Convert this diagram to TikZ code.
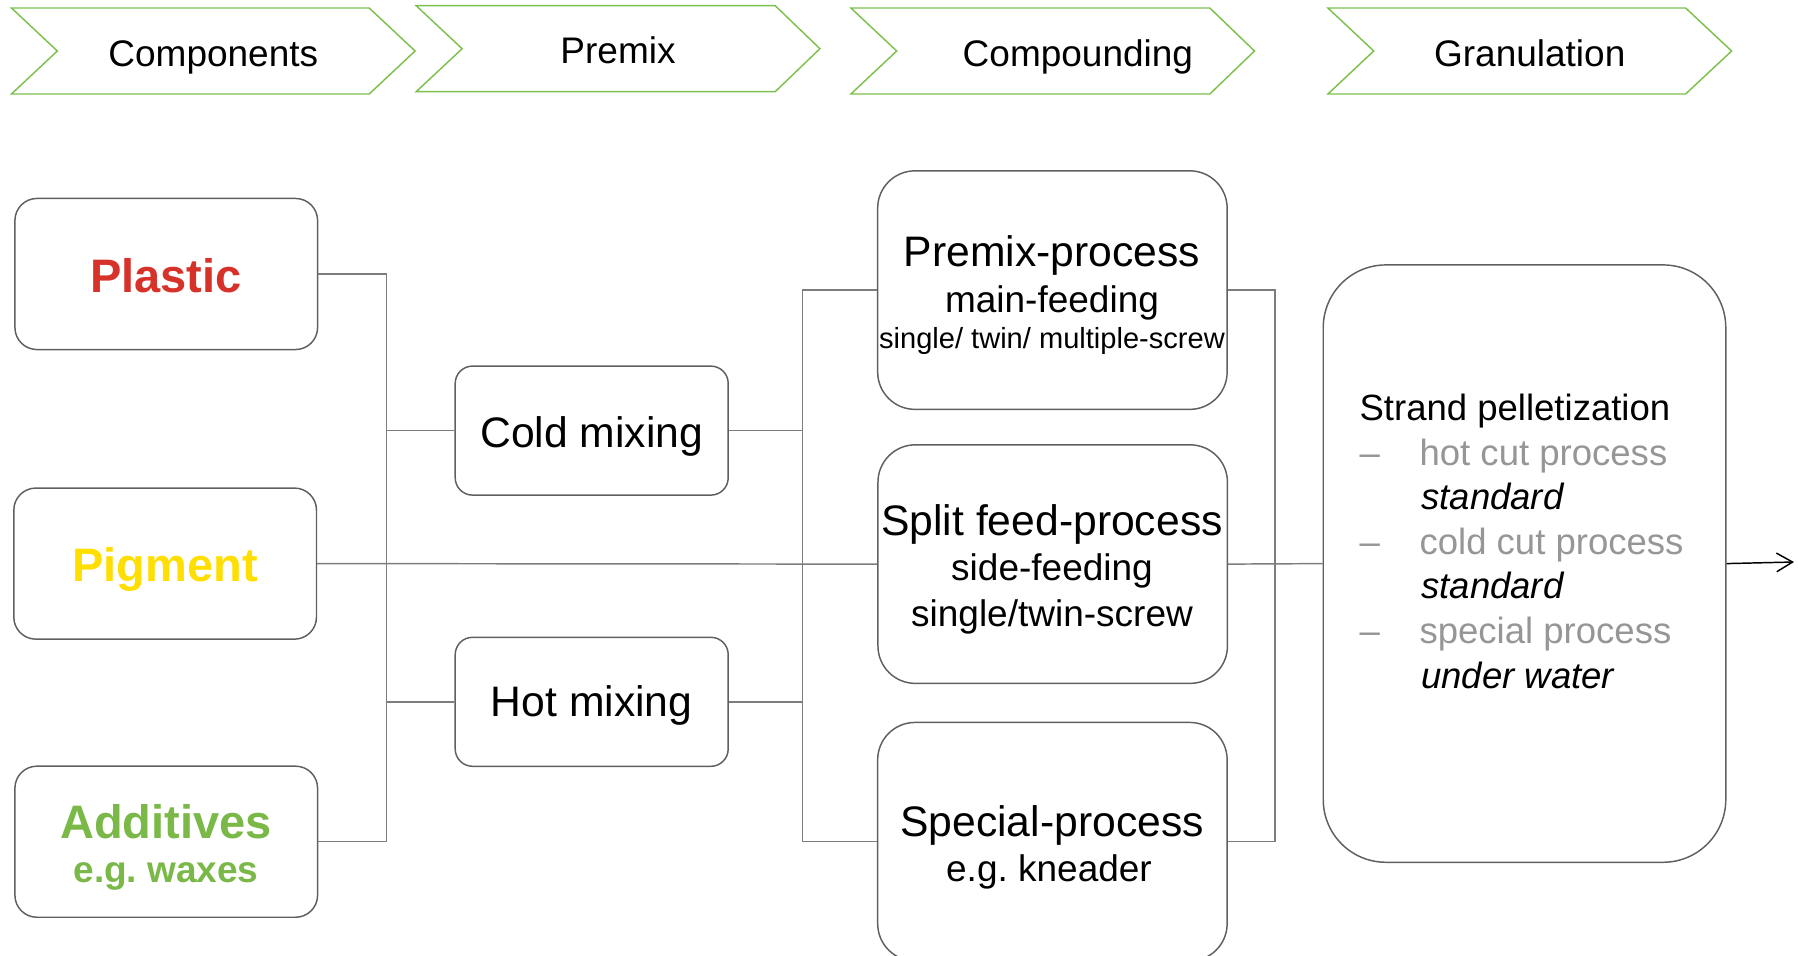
\documentclass[tikz,border=0pt]{standalone}
\usepackage{fontspec}
\setmainfont{Liberation Sans}
\usetikzlibrary{arrows.meta}
\frenchspacing
\definecolor{chevgreen}{RGB}{125,192,78}
\definecolor{plasticred}{RGB}{214,50,42}
\definecolor{pigyellow}{RGB}{255,222,0}
\definecolor{addgreen}{RGB}{122,184,72}
\definecolor{boxgray}{RGB}{95,95,95}
\definecolor{linegray}{RGB}{125,125,125}
\definecolor{txtgray}{RGB}{150,150,150}
\newcommand{\myfs}[1]{\fontsize{#1}{#1}\selectfont}
\begin{document}
\begin{tikzpicture}[x=0.75pt,y=-0.75pt,
  chev/.style={draw=chevgreen,line width=1.1pt,line join=miter},
  chevtxt/.style={anchor=base,inner sep=0,font=\myfs{27.75pt}},
  compbox/.style={draw=boxgray,line width=1.1pt,rounded corners=16.5pt,minimum width=227pt,minimum height=113.3pt,inner sep=0},
  mixbox/.style={draw=boxgray,line width=1.1pt,rounded corners=13pt,minimum width=204.75pt,minimum height=96.75pt,inner sep=0},
  procbox/.style={draw=boxgray,line width=1.1pt,rounded corners=28pt,minimum width=262.1pt,minimum height=178.9pt,inner sep=0},
  granbox/.style={draw=boxgray,line width=1.1pt,rounded corners=47pt,minimum width=301.9pt,minimum height=448pt,inner sep=0},
  txt/.style={anchor=base,inner sep=0},
  ltxt/.style={anchor=base west,inner sep=0,font=\myfs{27.4pt}},
  conn/.style={draw=linegray,line width=1.1pt}]
\useasboundingbox (0,0) rectangle (1798,956);

% header chevrons
\draw[chev] (11.5,8) -- (369.2,8) -- (415.1,51) -- (369.2,94) -- (11.5,94) -- (57.3,51) -- cycle;
\draw[chev] (416.2,5.7) -- (775.2,5.7) -- (819.9,48.7) -- (775.2,91.7) -- (416.2,91.7) -- (462.1,48.7) -- cycle;
\draw[chev] (850.9,8) -- (1209.8,8) -- (1254.5,51) -- (1209.8,94) -- (850.9,94) -- (896.7,51) -- cycle;
\draw[chev] (1327.9,8) -- (1685.6,8) -- (1731.6,51) -- (1685.6,94) -- (1327.9,94) -- (1373.7,51) -- cycle;
\node[chevtxt] (h1) at (213.3,66) {Components};
\node[chevtxt] (h2) at (618,63.6) {Premix};
\node[chevtxt] (h3) at (1077.9,66) {Compounding};
\node[chevtxt] (h4) at (1529.7,66) {Granulation};

% component boxes
\node[compbox] (plastic) at (166.25,274) {};
\node[compbox] (pigment) at (165.15,563.6) {};
\node[compbox] (additives) at (166.25,841.7) {};
\node[txt,font=\bfseries\myfs{35.25pt},text=plasticred] (plasticT) at (166,292) {Plastic};
\node[txt,font=\bfseries\myfs{35.25pt},text=pigyellow] (pigmentT) at (165,581) {Pigment};
\node[txt,font=\bfseries\myfs{35.25pt},text=addgreen] (additivesT) at (166,838) {Additives};
\node[txt,font=\bfseries\myfs{27.75pt},text=addgreen] (additivesT2) at (166,882) {e.g. waxes};

% mixing boxes
\node[mixbox] (cold) at (591.7,430.6) {};
\node[mixbox] (hot) at (591.7,701.8) {};
\node[txt,font=\myfs{32pt}] (coldT) at (591.7,447) {Cold mixing};
\node[txt,font=\myfs{32pt}] (hotT) at (591.7,716) {Hot mixing};

% process boxes
\node[procbox] (premix) at (1052.4,290.1) {};
\node[procbox] (split) at (1052.7,564.1) {};
\node[procbox] (special) at (1052.4,841.7) {};
\node[txt,font=\myfs{32pt}] (premixT1) at (1052,266) {Premix-process};
\node[txt,font=\myfs{27.75pt}] (premixT2) at (1052,312) {main-feeding};
\node[txt,font=\myfs{21.8pt}] (premixT3) at (1052,348) {single/ twin/ multiple-screw};
\node[txt,font=\myfs{32pt}] (splitT1) at (1052,535.8) {Split feed-process};
\node[txt,font=\myfs{27.75pt}] (splitT2) at (1052,580.8) {side-feeding};
\node[txt,font=\myfs{27.75pt}] (splitT3) at (1052,626.7) {single/twin-screw};
\node[txt,font=\myfs{32pt}] (specialT1) at (1052,836.3) {Special-process};
\node[txt,font=\myfs{27.75pt}] (specialT2) at (1049,881.2) {e.g. kneader};

% granulation box
\node[granbox] (strand) at (1524.5,563.6) {};
\node[ltxt] (s0) at (1359.3,420.7) {Strand pelletization};
\node[ltxt,text=txtgray] (d1) at (1359.3,465) {–};
\node[ltxt,text=txtgray] (s1) at (1419.3,465) {hot cut process};
\node[ltxt,font=\itshape\myfs{27.4pt}] (s2) at (1421,509.3) {standard};
\node[ltxt,text=txtgray] (d2) at (1359.3,554) {–};
\node[ltxt,text=txtgray] (s3) at (1419.3,554) {cold cut process};
\node[ltxt,font=\itshape\myfs{27.4pt}] (s4) at (1421,598.3) {standard};
\node[ltxt,text=txtgray] (d3) at (1359.3,643.3) {–};
\node[ltxt,text=txtgray] (s5) at (1419.3,643.3) {special process};
\node[ltxt,font=\itshape\myfs{27.4pt}] (s6) at (1421,688.3) {under water};

% connector columns
\coordinate (v1) at (386.4,0);
\coordinate (v2) at (802.7,0);
\coordinate (v3) at (1275.1,0);
\coordinate (out) at (1794,562);

\draw[conn] (plastic.east) -- (plastic.east -| v1) |- (cold.west);
\draw[conn] (additives.east) -- (additives.east -| v1) |- (hot.west);
\draw[conn] (cold.west -| v1) -- (hot.west -| v1);
\draw[conn] (pigment.east) -- (split.west);

\draw[conn] (premix.west) -- (premix.west -| v2) -- (special.west -| v2) -- (special.west);
\draw[conn] (cold.east) -- (cold.east -| v2);
\draw[conn] (hot.east) -- (hot.east -| v2);

\draw[conn] (premix.east) -- (premix.east -| v3) -- (special.east -| v3) -- (special.east);
\draw[conn] (split.east) -- (strand.west);

\draw[line width=1.1pt,-{Straight Barb[length=12pt,width=14pt]}] (strand.east) -- (out);
\end{tikzpicture}
\end{document}
